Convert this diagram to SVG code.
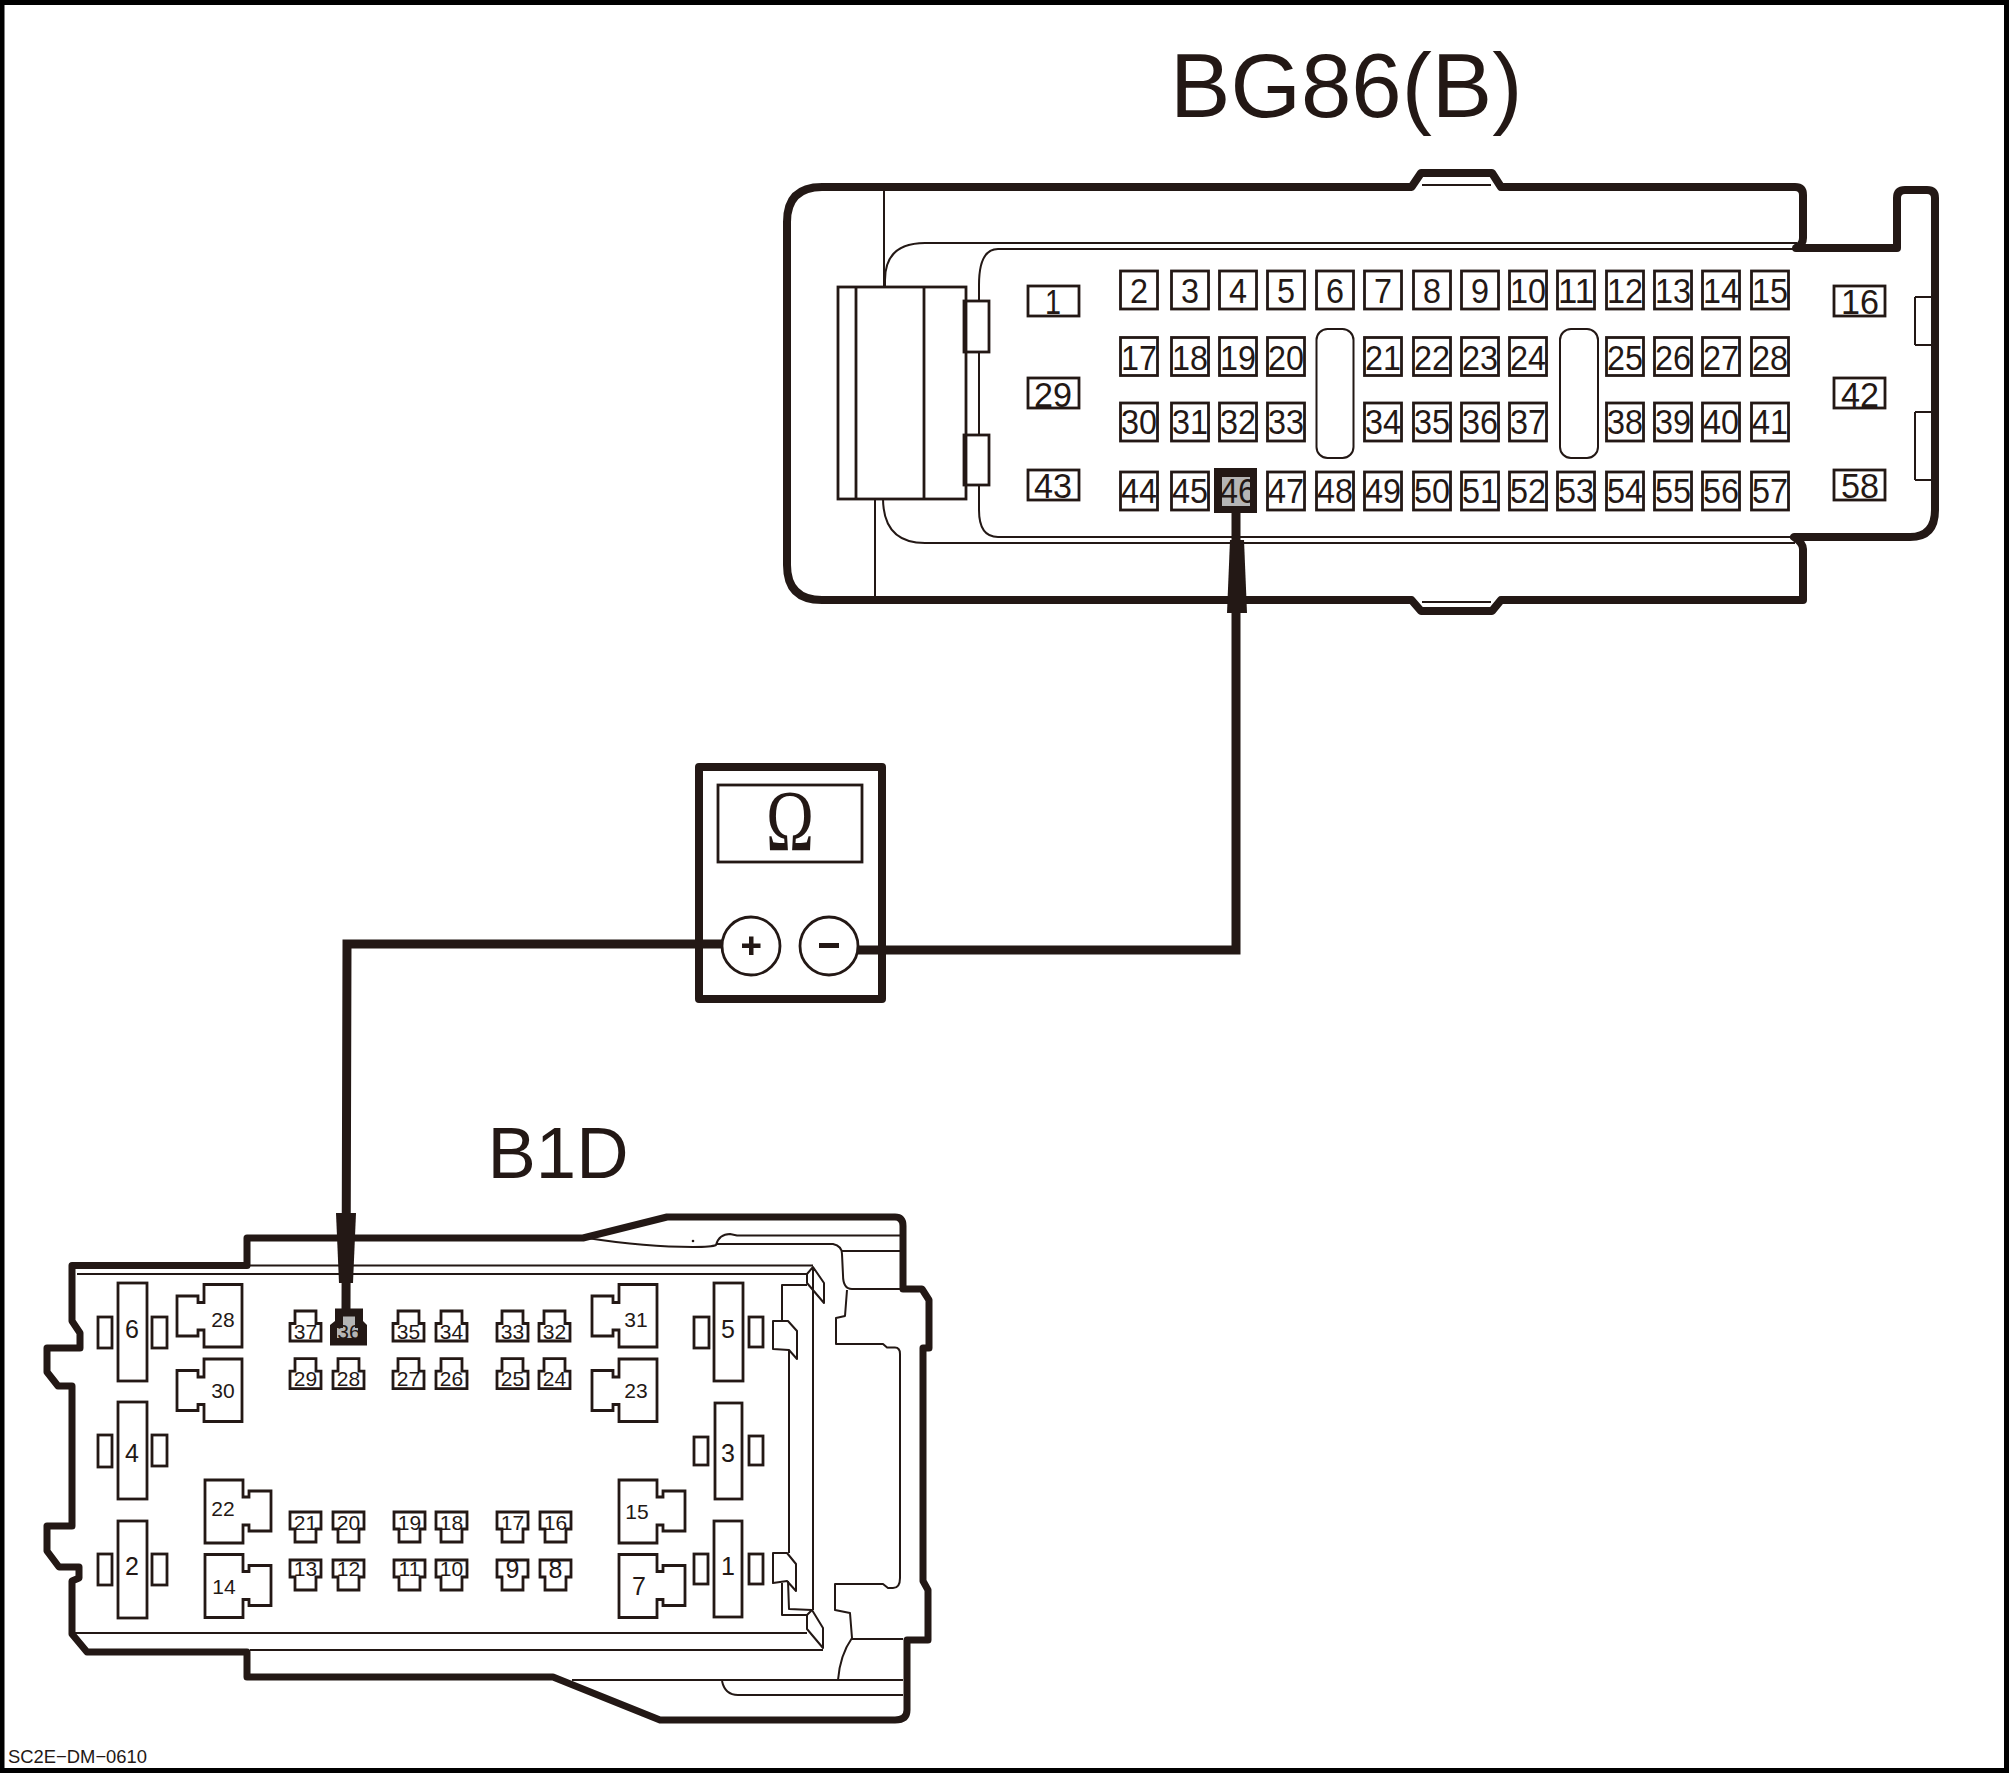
<svg xmlns="http://www.w3.org/2000/svg" xmlns:xlink="http://www.w3.org/1999/xlink" width="2009" height="1773" viewBox="0 0 2009 1773">
<style>
text{font-family:"Liberation Sans",Arial,sans-serif;fill:#231815;text-anchor:middle}
.thick{fill:none;stroke:#231815;stroke-width:7;stroke-linejoin:round;stroke-linecap:round}
.thick8{fill:none;stroke:#231815;stroke-width:8;stroke-linejoin:round;stroke-linecap:round}
.mid{fill:none;stroke:#231815;stroke-width:2.8;stroke-linejoin:miter}
.thin{fill:none;stroke:#231815;stroke-width:2;stroke-linejoin:round}
.wire{fill:none;stroke:#231815;stroke-width:9;stroke-linejoin:miter}
.ink{fill:#231815;stroke:none}
.gray{fill:#b5b5b5;stroke:none}
.a{font-size:35px}
.b{font-size:21px}
.c{font-size:25px}
</style>
<defs>
<rect id="p" class="mid" width="37" height="38"/>
<rect id="q" class="mid" width="51" height="30"/>
<path id="ja" class="mid" d="M27,0H65V62.5H27V45.5H21V51.5H0V11.5H21V18H27Z"/>
<path id="jb" class="mid" d="M0,0H38V17H44V11H66V51H44V45H38V63H0Z"/>
<path id="up" class="mid" d="M5,0H26V12.5H31V30H0V12.5H5Z"/>
<path id="dn" class="mid" d="M0,0H31V17H26V30H5V17H0Z"/>
</defs>
<rect width="2009" height="1773" fill="#fff"/>
<rect x="2" y="2.5" width="2004.5" height="1768" fill="none" stroke="#000" stroke-width="5"/>
<text x="1170" y="117" font-size="90.6" style="text-anchor:start">BG86(B)</text>
<text x="487.5" y="1178" font-size="72.5" style="text-anchor:start">B1D</text>
<text x="8" y="1763" font-size="18.4" style="text-anchor:start">SC2E−DM−0610</text>

<g id="connector-BG86">
<path class="thick8" d="M1411.5,187H822Q787,187 787,222V565Q787,600 822,600H1411.5L1421,611H1492L1501,600H1803V549Q1803,543 1794,537H1910Q1935,537 1935,510V198Q1935,190 1927,190H1905Q1897,190 1897,198V248H1796Q1803,245 1803,238V195Q1803,187 1795,187H1501L1492,173H1421Z"/>
<path class="thin" d="M1422,185H1491M1422,602H1491"/>
<path class="thin" d="M884,187V287M885,287V280Q885,243 925,243H1797"/>
<path class="thin" d="M875,498V600M883,498Q883,543 925,543H1795"/>
<path class="thin" d="M979,301V285Q979,249 998,249H1797M979,352V435M979,485V510Q979,537 998,537H1795"/>
<rect class="mid" x="838" y="287" width="128" height="212"/>
<path class="mid" d="M856,287V499M924,287V499"/>
<rect class="mid" x="964" y="301" width="25" height="51"/>
<rect class="mid" x="964" y="435" width="25" height="50"/>
<path class="thin" d="M1915,297H1932M1915,345H1932M1915,297V345M1915,412H1932M1915,480H1932M1915,412V480"/>
<rect class="thin" x="1316.5" y="329" width="37" height="129" rx="11"/>
<rect class="thin" x="1560" y="329" width="38" height="129" rx="11"/>

<g id="pins-BG86">
<use xlink:href="#q" x="1028" y="286"/><text class="a" x="1053" y="314" textLength="16" lengthAdjust="spacingAndGlyphs">1</text>
<use xlink:href="#q" x="1028" y="378"/><text class="a" x="1053" y="407" textLength="38" lengthAdjust="spacingAndGlyphs">29</text>
<use xlink:href="#q" x="1028" y="470"/><text class="a" x="1053" y="498" textLength="38" lengthAdjust="spacingAndGlyphs">43</text>
<use xlink:href="#q" x="1834" y="286"/><text class="a" x="1860" y="314" textLength="38" lengthAdjust="spacingAndGlyphs">16</text>
<use xlink:href="#q" x="1834" y="378"/><text class="a" x="1860" y="407" textLength="38" lengthAdjust="spacingAndGlyphs">42</text>
<use xlink:href="#q" x="1834" y="470"/><text class="a" x="1860" y="498" textLength="38" lengthAdjust="spacingAndGlyphs">58</text>

<use xlink:href="#p" x="1120.5" y="271"/><use xlink:href="#p" x="1171.5" y="271"/><use xlink:href="#p" x="1219.5" y="271"/><use xlink:href="#p" x="1267.5" y="271"/><use xlink:href="#p" x="1316.5" y="271"/><use xlink:href="#p" x="1364.5" y="271"/><use xlink:href="#p" x="1413.5" y="271"/><use xlink:href="#p" x="1461.5" y="271"/><use xlink:href="#p" x="1509.5" y="271"/><use xlink:href="#p" x="1557.5" y="271"/><use xlink:href="#p" x="1606.5" y="271"/><use xlink:href="#p" x="1654.5" y="271"/><use xlink:href="#p" x="1702.5" y="271"/><use xlink:href="#p" x="1751.5" y="271"/>
<g class="a">
<text x="1139" y="303" textLength="18" lengthAdjust="spacingAndGlyphs">2</text><text x="1190" y="303" textLength="18" lengthAdjust="spacingAndGlyphs">3</text><text x="1238" y="303" textLength="18" lengthAdjust="spacingAndGlyphs">4</text><text x="1286" y="303" textLength="18" lengthAdjust="spacingAndGlyphs">5</text><text x="1335" y="303" textLength="18" lengthAdjust="spacingAndGlyphs">6</text><text x="1383" y="303" textLength="18" lengthAdjust="spacingAndGlyphs">7</text><text x="1432" y="303" textLength="18" lengthAdjust="spacingAndGlyphs">8</text><text x="1480" y="303" textLength="18" lengthAdjust="spacingAndGlyphs">9</text>
<text x="1528" y="303" textLength="36" lengthAdjust="spacingAndGlyphs">10</text><text x="1576" y="303" textLength="36" lengthAdjust="spacingAndGlyphs">11</text><text x="1625" y="303" textLength="36" lengthAdjust="spacingAndGlyphs">12</text><text x="1673" y="303" textLength="36" lengthAdjust="spacingAndGlyphs">13</text><text x="1721" y="303" textLength="36" lengthAdjust="spacingAndGlyphs">14</text><text x="1770" y="303" textLength="36" lengthAdjust="spacingAndGlyphs">15</text>
</g>

<use xlink:href="#p" x="1120.5" y="337.5"/><use xlink:href="#p" x="1171.5" y="337.5"/><use xlink:href="#p" x="1219.5" y="337.5"/><use xlink:href="#p" x="1267.5" y="337.5"/><use xlink:href="#p" x="1364.5" y="337.5"/><use xlink:href="#p" x="1413.5" y="337.5"/><use xlink:href="#p" x="1461.5" y="337.5"/><use xlink:href="#p" x="1509.5" y="337.5"/><use xlink:href="#p" x="1606.5" y="337.5"/><use xlink:href="#p" x="1654.5" y="337.5"/><use xlink:href="#p" x="1702.5" y="337.5"/><use xlink:href="#p" x="1751.5" y="337.5"/>
<g class="a">
<text x="1139" y="370" textLength="36" lengthAdjust="spacingAndGlyphs">17</text><text x="1190" y="370" textLength="36" lengthAdjust="spacingAndGlyphs">18</text><text x="1238" y="370" textLength="36" lengthAdjust="spacingAndGlyphs">19</text><text x="1286" y="370" textLength="36" lengthAdjust="spacingAndGlyphs">20</text><text x="1383" y="370" textLength="36" lengthAdjust="spacingAndGlyphs">21</text><text x="1432" y="370" textLength="36" lengthAdjust="spacingAndGlyphs">22</text><text x="1480" y="370" textLength="36" lengthAdjust="spacingAndGlyphs">23</text><text x="1528" y="370" textLength="36" lengthAdjust="spacingAndGlyphs">24</text><text x="1625" y="370" textLength="36" lengthAdjust="spacingAndGlyphs">25</text><text x="1673" y="370" textLength="36" lengthAdjust="spacingAndGlyphs">26</text><text x="1721" y="370" textLength="36" lengthAdjust="spacingAndGlyphs">27</text><text x="1770" y="370" textLength="36" lengthAdjust="spacingAndGlyphs">28</text>
</g>

<use xlink:href="#p" x="1120.5" y="403"/><use xlink:href="#p" x="1171.5" y="403"/><use xlink:href="#p" x="1219.5" y="403"/><use xlink:href="#p" x="1267.5" y="403"/><use xlink:href="#p" x="1364.5" y="403"/><use xlink:href="#p" x="1413.5" y="403"/><use xlink:href="#p" x="1461.5" y="403"/><use xlink:href="#p" x="1509.5" y="403"/><use xlink:href="#p" x="1606.5" y="403"/><use xlink:href="#p" x="1654.5" y="403"/><use xlink:href="#p" x="1702.5" y="403"/><use xlink:href="#p" x="1751.5" y="403"/>
<g class="a">
<text x="1139" y="434" textLength="36" lengthAdjust="spacingAndGlyphs">30</text><text x="1190" y="434" textLength="36" lengthAdjust="spacingAndGlyphs">31</text><text x="1238" y="434" textLength="36" lengthAdjust="spacingAndGlyphs">32</text><text x="1286" y="434" textLength="36" lengthAdjust="spacingAndGlyphs">33</text><text x="1383" y="434" textLength="36" lengthAdjust="spacingAndGlyphs">34</text><text x="1432" y="434" textLength="36" lengthAdjust="spacingAndGlyphs">35</text><text x="1480" y="434" textLength="36" lengthAdjust="spacingAndGlyphs">36</text><text x="1528" y="434" textLength="36" lengthAdjust="spacingAndGlyphs">37</text><text x="1625" y="434" textLength="36" lengthAdjust="spacingAndGlyphs">38</text><text x="1673" y="434" textLength="36" lengthAdjust="spacingAndGlyphs">39</text><text x="1721" y="434" textLength="36" lengthAdjust="spacingAndGlyphs">40</text><text x="1770" y="434" textLength="36" lengthAdjust="spacingAndGlyphs">41</text>
</g>

<use xlink:href="#p" x="1120.5" y="472"/><use xlink:href="#p" x="1171.5" y="472"/><use xlink:href="#p" x="1267.5" y="472"/><use xlink:href="#p" x="1316.5" y="472"/><use xlink:href="#p" x="1364.5" y="472"/><use xlink:href="#p" x="1413.5" y="472"/><use xlink:href="#p" x="1461.5" y="472"/><use xlink:href="#p" x="1509.5" y="472"/><use xlink:href="#p" x="1557.5" y="472"/><use xlink:href="#p" x="1606.5" y="472"/><use xlink:href="#p" x="1654.5" y="472"/><use xlink:href="#p" x="1702.5" y="472"/><use xlink:href="#p" x="1751.5" y="472"/>
<rect class="ink" x="1214" y="468" width="43" height="45"/>
<rect class="gray" x="1222" y="477" width="28" height="29"/>
<g class="a">
<text x="1139" y="503" textLength="36" lengthAdjust="spacingAndGlyphs">44</text><text x="1190" y="503" textLength="36" lengthAdjust="spacingAndGlyphs">45</text><text x="1238" y="503" textLength="36" lengthAdjust="spacingAndGlyphs">46</text><text x="1286" y="503" textLength="36" lengthAdjust="spacingAndGlyphs">47</text><text x="1335" y="503" textLength="36" lengthAdjust="spacingAndGlyphs">48</text><text x="1383" y="503" textLength="36" lengthAdjust="spacingAndGlyphs">49</text><text x="1432" y="503" textLength="36" lengthAdjust="spacingAndGlyphs">50</text><text x="1480" y="503" textLength="36" lengthAdjust="spacingAndGlyphs">51</text><text x="1528" y="503" textLength="36" lengthAdjust="spacingAndGlyphs">52</text><text x="1576" y="503" textLength="36" lengthAdjust="spacingAndGlyphs">53</text><text x="1625" y="503" textLength="36" lengthAdjust="spacingAndGlyphs">54</text><text x="1673" y="503" textLength="36" lengthAdjust="spacingAndGlyphs">55</text><text x="1721" y="503" textLength="36" lengthAdjust="spacingAndGlyphs">56</text><text x="1770" y="503" textLength="36" lengthAdjust="spacingAndGlyphs">57</text>
</g>
</g>
</g>

<g id="connector-B1D">
<path class="thick" d="M530,1238H247V1265.5H72V1321L80,1333V1348H47V1372L58,1386H72V1526H47V1551L59,1567H79V1578L72,1581V1634L87,1652H247V1677H553L660,1720H895Q907,1720 907,1710V1640H928V1590L923,1581V1348H929V1300L922,1289H903V1226Q903,1217 895,1217H667L583,1238Z"/>
<path class="thin" d="M250,1265.5H813M77,1274H807M75,1633H807M250,1650H823"/>
<path class="thin" d="M807,1274L813,1267L824,1283V1303L807,1283ZM813,1267V1610M782,1321V1285H807"/>
<path class="thin" d="M773,1321H788L797,1331V1359L789,1350L773,1349ZM789,1350L789,1553"/>
<path class="thin" d="M773,1553H787L796,1564V1591L787,1581L773,1583ZM782,1583V1615H807M788,1581L789,1609L812,1610"/>
<path class="thin" d="M807,1615L812,1610L823,1628V1648L807,1629ZM807,1629L823,1648"/>
<path class="thin" d="M587,1238C620,1243 660,1247 693,1247C705,1247 712,1247 716,1245C718,1238 722,1234 730,1234L737,1235.5H900M716,1244H833Q842,1246 842,1254L843,1275Q843,1289 852,1289H900M842,1251H900"/>
<circle class="ink" cx="693" cy="1241" r="1.3"/>
<path class="thin" d="M847,1290L845,1316L836,1318V1344H883L887,1347.5H895Q900,1347.5 900,1354V1578Q900,1588 893,1588H888L883,1584H835V1610L850,1613L852,1638Q840,1655 838,1680"/>
<path class="thin" d="M852,1639H903M572,1680H903M722,1681Q725,1695 738,1695H903"/>

<g id="pins-B1D">
<rect class="mid" x="118" y="1283" width="29" height="98"/><rect class="mid" x="118" y="1402" width="29" height="97"/><rect class="mid" x="118" y="1521" width="29" height="97"/>
<rect class="mid" x="98" y="1317" width="14" height="31"/><rect class="mid" x="152" y="1317" width="15" height="31"/>
<rect class="mid" x="98" y="1435" width="14" height="32"/><rect class="mid" x="152" y="1435" width="15" height="31"/>
<rect class="mid" x="98" y="1554" width="14" height="31"/><rect class="mid" x="152" y="1554" width="15" height="31"/>
<rect class="mid" x="714" y="1283" width="29" height="98"/><rect class="mid" x="715" y="1403" width="27" height="96"/><rect class="mid" x="714" y="1521" width="28" height="96"/>
<rect class="mid" x="694" y="1317" width="15" height="31"/><rect class="mid" x="749" y="1317" width="14" height="30"/>
<rect class="mid" x="694" y="1437" width="14" height="28"/><rect class="mid" x="749" y="1436" width="14" height="29"/>
<rect class="mid" x="694" y="1554" width="14" height="30"/><rect class="mid" x="749" y="1554" width="14" height="30"/>
<text class="c" x="132" y="1338">6</text><text class="c" x="132" y="1462">4</text><text class="c" x="132" y="1575">2</text>
<text class="c" x="728" y="1338">5</text><text class="c" x="728" y="1462">3</text><text class="c" x="728" y="1575">1</text>

<use xlink:href="#ja" x="177" y="1284.5"/><use xlink:href="#ja" x="177" y="1359"/><use xlink:href="#ja" x="592" y="1284.5"/><use xlink:href="#ja" x="592" y="1359"/>
<use xlink:href="#jb" x="205" y="1480"/><use xlink:href="#jb" x="205" y="1554.5"/><use xlink:href="#jb" x="619" y="1480"/><use xlink:href="#jb" x="619" y="1554.5"/>
<text class="b" x="223" y="1327">28</text><text class="b" x="223" y="1397.5">30</text><text class="b" x="636" y="1327">31</text><text class="b" x="636" y="1397.5">23</text>
<text class="b" x="223" y="1516">22</text><text class="b" x="224" y="1594">14</text><text class="b" x="637" y="1518.5">15</text><text class="c" x="639" y="1595">7</text>

<use xlink:href="#up" x="290" y="1311"/><use xlink:href="#up" x="393" y="1311"/><use xlink:href="#up" x="436" y="1311"/><use xlink:href="#up" x="497" y="1311"/><use xlink:href="#up" x="539" y="1311"/>
<path class="ink" d="M335,1308.6H363V1321L367,1325V1345.5H330V1325L335,1321Z"/>
<path class="gray" d="M343,1316.5H355V1328H358V1338H337V1328H343Z"/>
<use xlink:href="#up" x="290" y="1358.6"/><use xlink:href="#up" x="333" y="1358.6"/><use xlink:href="#up" x="393" y="1358.6"/><use xlink:href="#up" x="436" y="1358.6"/><use xlink:href="#up" x="497" y="1358.6"/><use xlink:href="#up" x="539" y="1358.6"/>
<use xlink:href="#dn" x="290" y="1512"/><use xlink:href="#dn" x="333" y="1512"/><use xlink:href="#dn" x="394" y="1512"/><use xlink:href="#dn" x="436" y="1512"/><use xlink:href="#dn" x="497" y="1512"/><use xlink:href="#dn" x="540" y="1512"/>
<use xlink:href="#dn" x="290" y="1560"/><use xlink:href="#dn" x="333" y="1560"/><use xlink:href="#dn" x="394" y="1560"/><use xlink:href="#dn" x="436" y="1560"/><use xlink:href="#dn" x="497" y="1560"/><use xlink:href="#dn" x="540" y="1560"/>
<g class="b">
<text x="305.5" y="1339">37</text><text x="349" y="1339">36</text><text x="408.5" y="1339">35</text><text x="451.5" y="1339">34</text><text x="512.5" y="1339">33</text><text x="554.5" y="1339">32</text>
<text x="305.5" y="1385.5">29</text><text x="348.5" y="1385.5">28</text><text x="408.5" y="1385.5">27</text><text x="451.5" y="1385.5">26</text><text x="512.5" y="1385.5">25</text><text x="554.5" y="1385.5">24</text>
<text x="305.5" y="1530">21</text><text x="348.5" y="1530">20</text><text x="409.5" y="1530">19</text><text x="451.5" y="1530">18</text><text x="512.5" y="1530">17</text><text x="555.5" y="1530">16</text>
<text x="305.5" y="1575.5">13</text><text x="348.5" y="1575.5">12</text><text x="409.5" y="1575.5">11</text><text x="451.5" y="1575.5">10</text>
</g>
<text class="c" x="512.5" y="1578">9</text><text class="c" x="555.5" y="1578">8</text>
</g>
</g>

<g id="meter">
<rect x="699" y="767" width="183" height="232" fill="none" stroke="#231815" stroke-width="8" stroke-linejoin="round"/>
<rect class="mid" x="718" y="785" width="144" height="77"/>
<text x="790" y="850" font-size="86" textLength="48" lengthAdjust="spacingAndGlyphs" style="font-family:'Liberation Serif',serif">Ω</text>
<circle class="mid" cx="751" cy="946" r="29"/>
<circle class="mid" cx="829" cy="946" r="29"/>
<path class="ink" d="M742,943.5H749V936.5H753.5V943.5H760.5V948H753.5V955H749V948H742Z"/>
<rect class="ink" x="819" y="943" width="20" height="5"/>
</g>

<g id="connectors">
<path class="wire" d="M722,944H347L346,1310"/>
<path class="ink" d="M336,1213H356L353,1283H339Z"/>
<path class="wire" d="M858,950H1236V513"/>
<path class="ink" d="M1230,540H1244L1247,613H1227Z"/>
</g>
</svg>
